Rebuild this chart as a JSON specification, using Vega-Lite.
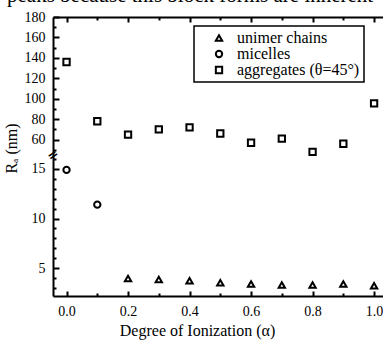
{
  "$schema": "https://vega.github.io/schema/vega-lite/v6.json",
  "autosize": {"type": "none"},
  "padding": {"left": 53, "top": 17, "right": 0, "bottom": 51},
  "width": 330,
  "height": 279,
  "background": "white",
  "title": {"text": "peaks because this block forms are inherent", "anchor": "start", "frame": "bounds", "font": "Times New Roman, Liberation Serif, serif", "fontSize": 21, "fontWeight": "normal", "color": "black", "baseline": "alphabetic", "offset": 4, "dy": 17, "dx": 4},
  "config": {
    "view": {"stroke": null},
    "axis": {"labelFont": "Times New Roman, Liberation Serif, serif", "labelFontSize": 14, "labelColor": "black", "titleFont": "Times New Roman, Liberation Serif, serif", "titleFontSize": 16, "titleFontWeight": "normal", "titleColor": "black", "domainColor": "black", "domainWidth": 2, "tickColor": "black", "tickWidth": 2, "grid": false},
    "legend": {"strokeColor": "black", "strokeWidth": 1.5}
  },
  "data": {"values": [
    {"alpha": 0.2, "R": 3.97, "type": "unimer chains"},
    {"alpha": 0.3, "R": 3.87, "type": "unimer chains"},
    {"alpha": 0.4, "R": 3.73, "type": "unimer chains"},
    {"alpha": 0.5, "R": 3.53, "type": "unimer chains"},
    {"alpha": 0.6, "R": 3.4, "type": "unimer chains"},
    {"alpha": 0.7, "R": 3.3, "type": "unimer chains"},
    {"alpha": 0.8, "R": 3.3, "type": "unimer chains"},
    {"alpha": 0.9, "R": 3.4, "type": "unimer chains"},
    {"alpha": 1.0, "R": 3.23, "type": "unimer chains"},
    {"alpha": 0.0, "R": 14.9, "type": "micelles"},
    {"alpha": 0.1, "R": 11.4, "type": "micelles"},
    {"alpha": 0.0, "R": 136, "type": "aggregates (θ=45°)"},
    {"alpha": 0.1, "R": 78, "type": "aggregates (θ=45°)"},
    {"alpha": 0.2, "R": 65, "type": "aggregates (θ=45°)"},
    {"alpha": 0.3, "R": 70, "type": "aggregates (θ=45°)"},
    {"alpha": 0.4, "R": 72, "type": "aggregates (θ=45°)"},
    {"alpha": 0.5, "R": 66, "type": "aggregates (θ=45°)"},
    {"alpha": 0.6, "R": 57, "type": "aggregates (θ=45°)"},
    {"alpha": 0.7, "R": 61, "type": "aggregates (θ=45°)"},
    {"alpha": 0.8, "R": 48, "type": "aggregates (θ=45°)"},
    {"alpha": 0.9, "R": 56, "type": "aggregates (θ=45°)"},
    {"alpha": 1.0, "R": 95.5, "type": "aggregates (θ=45°)"}
  ]},
  "resolve": {"axis": {"x": "independent", "y": "independent"}},
  "layer": [
    {
      "mark": {"type": "point", "filled": false, "stroke": "black", "strokeWidth": 2, "size": 40, "opacity": 1},
      "encoding": {
        "x": {"field": "alpha", "type": "quantitative", "scale": {"domain": [-0.044, 1.029], "nice": false, "zero": false},
          "axis": {"orient": "bottom", "values": [0, 0.2, 0.4, 0.6, 0.8, 1.0], "format": ".1f", "tickSize": -5, "labelPadding": 13, "title": "Degree of Ionization (α)", "titlePadding": 4, "titleX": 144}},
        "y": {"field": "R", "type": "quantitative", "scale": {"domain": [2.2, 16.4, 45, 180], "range": [279, 138, 138, 0], "nice": false, "zero": false},
          "axis": {"orient": "left", "values": [5, 10, 15, 60, 80, 100, 120, 140, 160, 180], "tickSize": -6, "labelPadding": 14, "title": "Rₐ (nm)", "titlePadding": 5, "titleY": 131}},
        "shape": {"field": "type", "type": "nominal",
          "scale": {"domain": ["unimer chains", "micelles", "aggregates (θ=45°)"], "range": ["triangle-up", "circle", "square"]},
          "legend": {"title": null, "orient": "none", "legendX": 141, "legendY": 9, "padding": 4, "symbolOffset": 13, "labelOffset": 10, "rowPadding": -2.5, "labelFont": "Times New Roman, Liberation Serif, serif", "labelFontSize": 16, "labelColor": "black", "symbolSize": 40, "symbolStrokeWidth": 2, "symbolStrokeColor": "black", "symbolFillColor": "transparent", "fillColor": "white"}}
      }
    },
    {
      "mark": {"type": "point", "opacity": 0},
      "encoding": {
        "x": {"field": "alpha", "type": "quantitative", "scale": {"domain": [-0.044, 1.029], "nice": false, "zero": false},
          "axis": {"orient": "bottom", "values": [0.1, 0.3, 0.5, 0.7, 0.9], "labels": false, "domain": false, "tickSize": -3, "title": null}},
        "y": {"field": "R", "type": "quantitative", "scale": {"domain": [2.2, 16.4, 45, 180], "range": [279, 138, 138, 0], "nice": false, "zero": false},
          "axis": {"orient": "left", "values": [3, 4, 6, 7, 8, 9, 11, 12, 13, 14, 16, 50, 70, 90, 110, 130, 150, 170], "labels": false, "domain": false, "tickSize": -3, "title": null}}
      }
    },
    {
      "mark": {"type": "point", "opacity": 0},
      "encoding": {
        "x": {"field": "alpha", "type": "quantitative", "scale": {"domain": [-0.044, 1.029], "nice": false, "zero": false},
          "axis": {"orient": "top", "values": [0, 0.2, 0.4, 0.6, 0.8, 1.0], "labels": false, "tickSize": -5, "title": null}},
        "y": {"field": "R", "type": "quantitative", "axis": null}
      }
    },
    {
      "mark": {"type": "point", "opacity": 0},
      "encoding": {
        "x": {"field": "alpha", "type": "quantitative",
          "axis": {"orient": "top", "values": [0.1, 0.3, 0.5, 0.7, 0.9], "labels": false, "domain": false, "tickSize": -3, "title": null}},
        "y": {"field": "R", "type": "quantitative", "axis": null}
      }
    },
    {
      "data": {"values": [{"alpha": -0.044, "R": 30}]},
      "mark": {"type": "text", "text": "=", "font": "DejaVu Sans", "fontSize": 13, "fontWeight": "bold", "angle": -35, "color": "black"},
      "encoding": {
        "x": {"field": "alpha", "type": "quantitative", "axis": null},
        "y": {"field": "R", "type": "quantitative", "axis": null}
      }
    }
  ]
}
